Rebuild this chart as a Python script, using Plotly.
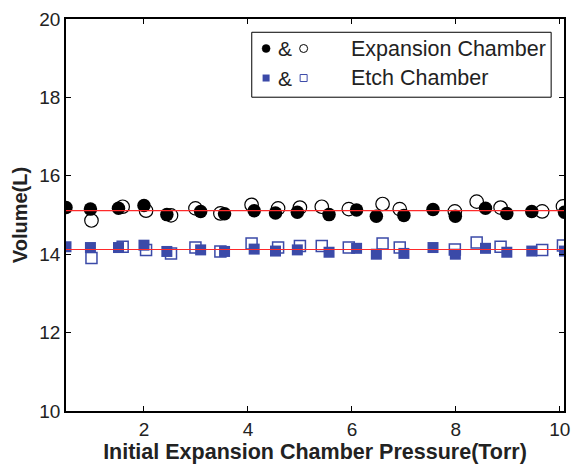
import plotly.graph_objects as go

# ---- data ----
exp_filled_x = [0.50, 0.97, 1.51, 2.00, 2.44, 3.09, 3.55, 4.12, 4.53, 4.95, 5.56, 6.09, 6.47, 7.00, 7.56, 7.99, 8.57, 8.98, 9.46, 10.09]
exp_filled_y = [15.19, 15.15, 15.17, 15.24, 15.01, 15.09, 15.03, 15.11, 15.05, 15.07, 15.01, 15.13, 14.97, 14.99, 15.14, 14.97, 15.17, 15.04, 15.09, 15.07]
etch_filled_y = [14.19, 14.17, 14.17, 14.23, 14.07, 14.11, 14.07, 14.13, 14.08, 14.11, 14.05, 14.15, 14.00, 14.02, 14.17, 14.00, 14.15, 14.05, 14.08, 14.08]

open_x = [0.99, 1.59, 2.04, 2.52, 2.99, 3.47, 4.07, 4.58, 5.00, 5.42, 5.94, 6.59, 6.92, 7.98, 8.40, 8.86, 9.66, 10.06]
exp_open_y = [14.86, 15.21, 15.11, 14.99, 15.17, 15.04, 15.26, 15.17, 15.19, 15.21, 15.15, 15.28, 15.15, 15.09, 15.34, 15.19, 15.09, 15.22]
etch_open_y = [13.90, 14.19, 14.11, 14.02, 14.17, 14.07, 14.27, 14.17, 14.21, 14.21, 14.17, 14.27, 14.17, 14.12, 14.30, 14.19, 14.11, 14.22]

fit_x = [0.5, 10.08]
fit_exp_y = [15.11, 15.11]
fit_etch_y = [14.12, 14.12]

x_ticks = [2, 4, 6, 8, 10]
y_ticks = [10, 12, 14, 16, 18, 20]
legend_labels = ["Expansion Chamber", "Etch Chamber"]

BLUE = "#3b4aa8"
FONT = "Liberation Sans, Arial, Helvetica, sans-serif"

fig = go.Figure()
fig.add_trace(go.Scatter(x=open_x, y=exp_open_y, mode="markers",
                         marker=dict(symbol="circle-open", size=13.5, color="black", line=dict(width=1.2, color="black"))))
fig.add_trace(go.Scatter(x=open_x, y=etch_open_y, mode="markers",
                         marker=dict(symbol="square-open", size=11, color=BLUE, line=dict(width=1.5, color=BLUE))))
fig.add_trace(go.Scatter(x=exp_filled_x, y=exp_filled_y, mode="markers",
                         marker=dict(symbol="circle", size=13.5, color="black", line=dict(width=0))))
fig.add_trace(go.Scatter(x=exp_filled_x, y=etch_filled_y, mode="markers",
                         marker=dict(symbol="square", size=11, color=BLUE, line=dict(width=0))))
fig.add_trace(go.Scatter(x=fit_x, y=fit_exp_y, mode="lines", line=dict(color="#ff2a2a", width=1.2)))
fig.add_trace(go.Scatter(x=fit_x, y=fit_etch_y, mode="lines", line=dict(color="#ff2a2a", width=1.2)))

L, R, T, B = 66, 9, 13.5, 56
W, H = 579, 468
pw, ph = W - L - R, H - T - B

def px(x):
    return (x - L) / pw

def py(y):
    return (H - B - y) / ph

shapes = [dict(type="rect", xref="paper", yref="paper", x0=px(254), x1=px(557), y0=py(93), y1=py(27),
               line=dict(color="black", width=1), fillcolor="white", layer="above")]
rows = [43.5, 73.5]
for i, yy in enumerate(rows):
    if i == 0:
        shapes.append(dict(type="circle", xref="paper", yref="paper", xsizemode="pixel", ysizemode="pixel",
                           xanchor=px(268.5), yanchor=py(yy), x0=-4, x1=4, y0=-4, y1=4,
                           fillcolor="black", line=dict(color="black", width=0.5), layer="above"))
        shapes.append(dict(type="circle", xref="paper", yref="paper", xsizemode="pixel", ysizemode="pixel",
                           xanchor=px(306.5), yanchor=py(yy), x0=-4, x1=4, y0=-4, y1=4,
                           fillcolor="white", line=dict(color="black", width=1), layer="above"))
    else:
        shapes.append(dict(type="rect", xref="paper", yref="paper", xsizemode="pixel", ysizemode="pixel",
                           xanchor=px(268.5), yanchor=py(yy), x0=-3.5, x1=3.5, y0=-3.5, y1=3.5,
                           fillcolor=BLUE, line=dict(color=BLUE, width=0), layer="above"))
        shapes.append(dict(type="rect", xref="paper", yref="paper", xsizemode="pixel", ysizemode="pixel",
                           xanchor=px(306.5), yanchor=py(yy), x0=-3.5, x1=3.5, y0=-3.5, y1=3.5,
                           fillcolor="white", line=dict(color=BLUE, width=1), layer="above"))

annotations = []
for i, yy in enumerate(rows):
    annotations.append(dict(xref="paper", yref="paper", x=px(288), y=py(yy), text="&", showarrow=False,
                            xanchor="center", yanchor="middle", font=dict(family=FONT, size=21, color="#222")))
    annotations.append(dict(xref="paper", yref="paper", x=px(352), y=py(yy), text=legend_labels[i], showarrow=False,
                            xanchor="left", yanchor="middle", font=dict(family=FONT, size=21.5, color="#222")))

fig.update_layout(
    width=W, height=H, margin=dict(l=L, r=R, t=T, b=B),
    plot_bgcolor="white", paper_bgcolor="white", showlegend=False,
    font=dict(family=FONT, color="#222"),
    shapes=shapes, annotations=annotations,
)
fig.update_xaxes(range=[0.5, 10.08], tickvals=x_ticks, ticktext=[str(v) for v in x_ticks],
                 ticks="inside", ticklen=5, tickcolor="black", showline=True, linecolor="black", linewidth=1.5,
                 mirror="ticks", showgrid=False, zeroline=False, tickfont=dict(size=19, family=FONT, color="#222"),
                 title=dict(text="<b>Initial Expansion Chamber Pressure(Torr)</b>", font=dict(size=21.5, family=FONT, color="#222"), standoff=4))
fig.update_yaxes(range=[10, 20], tickvals=y_ticks, ticktext=[str(v) for v in y_ticks],
                 ticks="inside", ticklen=5, tickcolor="black", showline=True, linecolor="black", linewidth=1.5,
                 mirror="ticks", showgrid=False, zeroline=False, tickfont=dict(size=19, family=FONT, color="#222"),
                 title=dict(text="<b>Volume(L)</b>", font=dict(size=20, family=FONT, color="#222"), standoff=6))

fig.write_html("out.html")
